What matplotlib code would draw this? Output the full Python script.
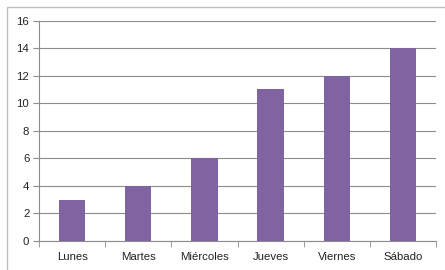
import matplotlib.pyplot as plt
from matplotlib.patches import Rectangle
import numpy as np

dias = ['Lunes', 'Martes', 'Miércoles', 'Jueves', 'Viernes', 'Sábado']
valores = [3, 4, 6, 11, 12, 14]

plt.rcParams['font.family'] = ['Liberation Sans', 'DejaVu Sans']

fig = plt.figure(figsize=(4.45, 2.70), dpi=100)
# marco del area del grafico
fig.patches.append(Rectangle((7/445, -0.1), 1.0, 1 - 7/270 + 0.1, transform=fig.transFigure,
                             fill=False, edgecolor='#bfbfbf', linewidth=1.0))
ax = fig.add_axes([0.0876, 0.1074, 0.8924, 0.8166])

x = np.arange(len(dias))
ax.bar(x, valores, width=0.4, color='#8064a2', zorder=3)

ax.set_xlim(-0.5, len(dias) - 0.5)
ax.set_ylim(0, 16)
ax.set_yticks(range(0, 17, 2))
ax.yaxis.grid(True, color='#8c8c8c', linewidth=0.8, zorder=0)

ax.set_xticks(x)
ax.set_xticklabels(dias)
ax.set_xticks(np.arange(-0.5, len(dias)), minor=True)
ax.tick_params(axis='x', which='major', length=0, pad=8, labelsize=8.2, labelcolor='#222222')
ax.tick_params(axis='x', which='minor', length=4, color='#8c8c8c', direction='out')
ax.tick_params(axis='y', length=4, color='#8c8c8c', labelsize=8.2, labelcolor='#222222', pad=3)

for s in ['top', 'right']:
    ax.spines[s].set_visible(False)
for s in ['left', 'bottom']:
    ax.spines[s].set_color('#8c8c8c')
    ax.spines[s].set_linewidth(0.8)

fig.savefig('out.png', dpi=100)
